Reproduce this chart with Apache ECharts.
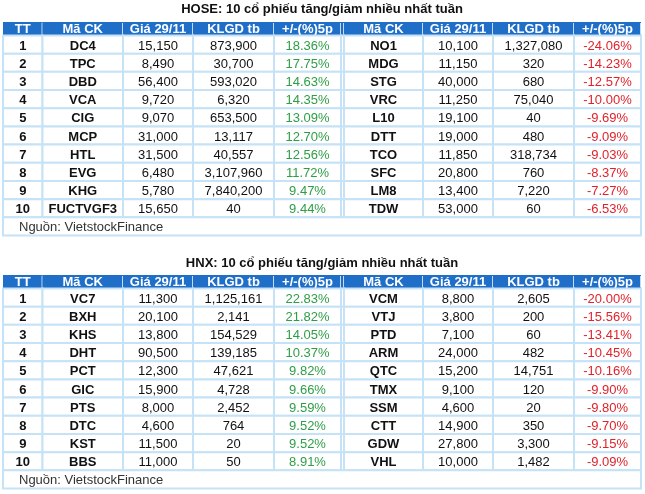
<!DOCTYPE html>
<html>
<head>
<meta charset="utf-8">
<script src="https://cdn.jsdelivr.net/npm/echarts@6/dist/echarts.min.js"></script>
<style>
html,body{margin:0;padding:0;background:#fff;}
#chart{width:645px;height:494px;}
</style>
</head>
<body>
<div id="chart"></div>
<script>
// ---------- DATA ----------
const titles = ['HOSE: 10 cổ phiếu tăng/giảm nhiều nhất tuần', 'HNX: 10 cổ phiếu tăng/giảm nhiều nhất tuần'];
const headerLeft = ['TT', 'Mã CK', 'Giá 29/11', 'KLGD tb', '+/-(%)5p'];
const headerRight = ['Mã CK', 'Giá 29/11', 'KLGD tb', '+/-(%)5p'];
const sourceText = 'Nguồn: VietstockFinance';

const hoseUpCodes = ['DC4', 'TPC', 'DBD', 'VCA', 'CIG', 'MCP', 'HTL', 'EVG', 'KHG', 'FUCTVGF3'];
const hoseUpPrice = [15150, 8490, 56400, 9720, 9070, 31000, 31500, 6480, 5780, 15650];
const hoseUpVol = [873900, 30700, 593020, 6320, 653500, 13117, 40557, 3107960, 7840200, 40];
const hoseUpPct = [18.36, 17.75, 14.63, 14.35, 13.09, 12.70, 12.56, 11.72, 9.47, 9.44];

const hoseDownCodes = ['NO1', 'MDG', 'STG', 'VRC', 'L10', 'DTT', 'TCO', 'SFC', 'LM8', 'TDW'];
const hoseDownPrice = [10100, 11150, 40000, 11250, 19100, 19000, 11850, 20800, 13400, 53000];
const hoseDownVol = [1327080, 320, 680, 75040, 40, 480, 318734, 760, 7220, 60];
const hoseDownPct = [-24.06, -14.23, -12.57, -10.00, -9.69, -9.09, -9.03, -8.37, -7.27, -6.53];

const hnxUpCodes = ['VC7', 'BXH', 'KHS', 'DHT', 'PCT', 'GIC', 'PTS', 'DTC', 'KST', 'BBS'];
const hnxUpPrice = [11300, 20100, 13800, 90500, 12300, 15900, 8000, 4600, 11500, 11000];
const hnxUpVol = [1125161, 2141, 154529, 139185, 47621, 4728, 2452, 764, 20, 50];
const hnxUpPct = [22.83, 21.82, 14.05, 10.37, 9.82, 9.66, 9.59, 9.52, 9.52, 8.91];

const hnxDownCodes = ['VCM', 'VTJ', 'PTD', 'ARM', 'QTC', 'TMX', 'SSM', 'CTT', 'GDW', 'VHL'];
const hnxDownPrice = [8800, 3800, 7100, 24000, 15200, 9100, 4600, 14900, 27800, 10000];
const hnxDownVol = [2605, 200, 60, 482, 14751, 120, 20, 350, 3300, 1482];
const hnxDownPct = [-20.00, -15.56, -13.41, -10.45, -10.16, -9.90, -9.80, -9.70, -9.15, -9.09];

// ---------- LAYOUT / STYLE ----------
const FONT = '"Liberation Sans", Arial, Helvetica, sans-serif';
const COL_EDGES = [0, 39.5, 120, 190, 271, 338, 341, 420, 490, 571, 638]; // column boundaries (axis units)
const HEADER_H = 0.74;      // header height in row units
const N_ROWS = 10;
const BLUE = '#1f6fc8';
const GRID_LINE = '#c6e2f6';
const HEAD_LINE = '#c4dbf3';
const GREEN = '#2e9e46';
const RED = '#e0232b';
const TEXT = '#111';
const TABLE_TOPS = [22, 275];
const TABLE_H = 213.5;

function fmtInt(n) { return String(n).replace(/\B(?=(\d{3})+(?!\d))/g, ','); }
function fmtPct(v) { return v.toFixed(2) + '%'; }

function buildCells(up, down) {
  const cells = [];
  const headers = headerLeft.concat(['']).concat(headerRight);
  for (let c = 0; c < 10; c++) {
    cells.push({v: [COL_EDGES[c], COL_EDGES[c + 1], -HEADER_H, 0], kind: 'head', text: headers[c]});
  }
  for (let i = 0; i < N_ROWS; i++) {
    const texts = [
      {t: String(i + 1), bold: true, color: TEXT},
      {t: up.codes[i], bold: true, color: TEXT},
      {t: fmtInt(up.price[i]), bold: false, color: TEXT},
      {t: fmtInt(up.vol[i]), bold: false, color: TEXT},
      {t: fmtPct(up.pct[i]), bold: false, color: GREEN},
      {t: '', bold: false, color: TEXT},
      {t: down.codes[i], bold: true, color: TEXT},
      {t: fmtInt(down.price[i]), bold: false, color: TEXT},
      {t: fmtInt(down.vol[i]), bold: false, color: TEXT},
      {t: fmtPct(down.pct[i]), bold: false, color: RED}
    ];
    for (let c = 0; c < 10; c++) {
      cells.push({v: [COL_EDGES[c], COL_EDGES[c + 1], i, i + 1], kind: 'body',
        text: texts[c].t, bold: texts[c].bold, color: texts[c].color});
    }
  }
  cells.push({v: [COL_EDGES[0], COL_EDGES[10], N_ROWS, N_ROWS + 1], kind: 'source', text: sourceText});
  return cells;
}

const tables = [
  buildCells({codes: hoseUpCodes, price: hoseUpPrice, vol: hoseUpVol, pct: hoseUpPct},
             {codes: hoseDownCodes, price: hoseDownPrice, vol: hoseDownVol, pct: hoseDownPct}),
  buildCells({codes: hnxUpCodes, price: hnxUpPrice, vol: hnxUpVol, pct: hnxUpPct},
             {codes: hnxDownCodes, price: hnxDownPrice, vol: hnxDownVol, pct: hnxDownPct})
];

function makeRender(cells) {
  return function (params, api) {
    const cell = cells[params.dataIndex];
    const p0 = api.coord([api.value(0), api.value(2)]);
    const p1 = api.coord([api.value(1), api.value(3)]);
    const x = Math.min(p0[0], p1[0]), w = Math.abs(p1[0] - p0[0]);
    const y = Math.min(p0[1], p1[1]), h = Math.abs(p1[1] - p0[1]);
    const children = [];
    if (cell.kind === 'head') {
      children.push({type: 'rect', shape: {x: x, y: y, width: w, height: h},
        style: {fill: BLUE, stroke: null}});
      children.push({type: 'line', shape: {x1: x + w - 0.5, y1: y + 1, x2: x + w - 0.5, y2: y + h - 1},
        style: {stroke: HEAD_LINE, lineWidth: 1}});
      if (cell.text) {
        children.push({type: 'text', style: {text: cell.text, x: x + w / 2, y: y + h / 2 + 0.5,
          align: 'center', verticalAlign: 'middle', fill: '#fff',
          font: 'bold 13px ' + FONT}});
      }
    } else if (cell.kind === 'body') {
      children.push({type: 'rect', shape: {x: x, y: y, width: w, height: h},
        style: {fill: '#fff', stroke: GRID_LINE, lineWidth: 2}});
      if (cell.text) {
        children.push({type: 'text', style: {text: cell.text, x: x + w / 2, y: y + h / 2 + 1.5,
          align: 'center', verticalAlign: 'middle', fill: cell.color,
          font: (cell.bold ? 'bold ' : '') + '13px ' + FONT}});
      }
    } else {
      children.push({type: 'rect', shape: {x: x, y: y, width: w, height: h},
        style: {fill: '#fff', stroke: GRID_LINE, lineWidth: 2}});
      children.push({type: 'text', style: {text: cell.text, x: x + 16, y: y + h / 2 + 1,
        align: 'left', verticalAlign: 'middle', fill: '#333',
        font: '13px ' + FONT}});
    }
    return {type: 'group', children: children};
  };
}

const option = {
  backgroundColor: '#fff',
  animation: false,
  title: titles.map((t, k) => ({
    text: t, left: 322, textAlign: 'center', top: TABLE_TOPS[k] - 19 + k, padding: 0,
    textStyle: {fontFamily: FONT, fontSize: 13, fontWeight: 'bold', color: '#111'}
  })),
  grid: TABLE_TOPS.map(top => ({left: 3, top: top, width: 638, height: TABLE_H})),
  xAxis: TABLE_TOPS.map((_, k) => ({type: 'value', gridIndex: k, min: 0, max: COL_EDGES[COL_EDGES.length - 1], show: false})),
  yAxis: TABLE_TOPS.map((_, k) => ({type: 'value', gridIndex: k, min: -HEADER_H, max: N_ROWS + 1, inverse: true, show: false})),
  series: tables.map((cells, k) => ({
    type: 'custom',
    xAxisIndex: k, yAxisIndex: k,
    clip: false,
    silent: true,
    encode: {x: [0, 1], y: [2, 3]},
    data: cells.map(c => c.v),
    renderItem: makeRender(cells)
  }))
};

const chart = echarts.init(document.getElementById('chart'), null, {renderer: 'canvas'});
chart.setOption(option);
</script>
</body>
</html>
